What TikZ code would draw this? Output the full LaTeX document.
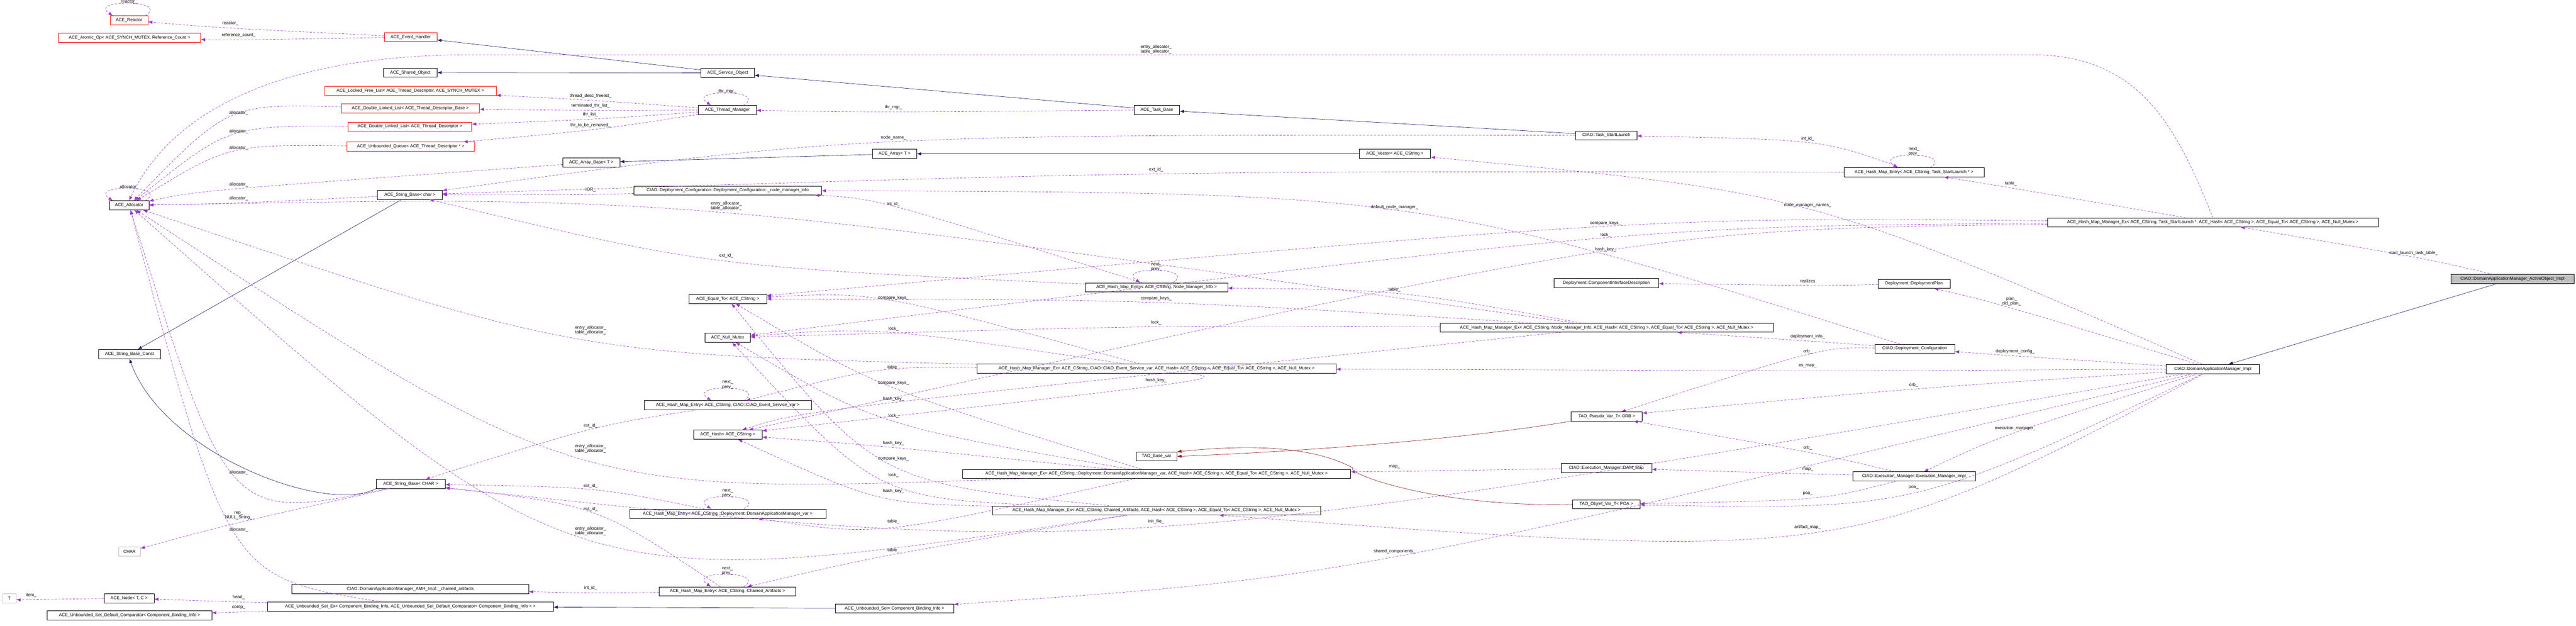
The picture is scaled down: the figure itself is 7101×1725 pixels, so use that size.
\documentclass[tikz,border=0pt]{standalone}
\usepackage{fontspec}
\setmainfont{Liberation Sans}
\usetikzlibrary{arrows.meta,calc}
\definecolor{dpurple}{HTML}{9A32CD}
\definecolor{navy}{HTML}{191970}
\definecolor{dred}{HTML}{8B1A1A}
\definecolor{lgray}{HTML}{BFBFBF}
\newcounter{lc}
\tikzset{
  box/.style={draw=black, line width=0.8pt, minimum height=25pt, inner sep=2pt, font=\fontsize{12}{14}\selectfont, fill=white},
  redbox/.style={box, draw=red},
  graybox/.style={box, draw=lgray},
  lbl/.style={font=\fontsize{12}{13}\selectfont, inner sep=0pt, align=center},
  dep/.style={draw=dpurple, line width=0.9pt, dash pattern=on 6pt off 4pt, -{Latex[length=12pt,width=9pt]}},
  inh/.style={draw=navy, line width=0.9pt, -{Latex[length=12pt,width=9pt]}},
  tmpl/.style={draw=dred, line width=0.9pt, -{Latex[length=12pt,width=9pt]}},
}
% [#1 drop] #2 src, #3 dst, #4 label x, #5 label y, #6 text
\newcommand\dep[6][12]{%
  \stepcounter{lc}%
  \node[lbl] (lab\arabic{lc}) at (#4,#5) {#6};
  \draw[dep] (#2) .. controls ($1.33333*(#4,{#5+#1})-0.166667*(#2)-0.166667*(#3)$) .. (#3);}
\newcommand\loopdep[3]{%
  \stepcounter{lc}%
  \draw[dep] ($(#1.north)+(45,0)$) .. controls +(70,-45) and +(-70,-45) .. ($(#1.north)+(-45,0)$);
  \node[lbl, anchor=south] (lab\arabic{lc}) at ($(#1.north)+(0,-#2)$) {#3};}
\begin{document}
\begin{tikzpicture}[x=1pt,y=-1pt]
\useasboundingbox (0,0) rectangle (7101,1725);
% ---- nodes
\node[redbox, minimum width=103pt] (reactor) at (356,56) {ACE\_Reactor};
\node[redbox, minimum width=392pt] (atomic) at (357,104) {ACE\_Atomic\_Op< ACE\_SYNCH\_MUTEX, Reference\_Count >};
\node[redbox, minimum width=145pt] (evh) at (1132,102) {ACE\_Event\_Handler};
\node[box, minimum width=148pt] (shobj) at (1131,200) {ACE\_Shared\_Object};
\node[redbox, minimum width=473pt] (lfl) at (1131,250) {ACE\_Locked\_Free\_List< ACE\_Thread\_Descriptor, ACE\_SYNCH\_MUTEX >};
\node[redbox, minimum width=381pt] (dll1) at (1131,299) {ACE\_Double\_Linked\_List< ACE\_Thread\_Descriptor\_Base >};
\node[redbox, minimum width=341pt] (dll2) at (1130,349) {ACE\_Double\_Linked\_List< ACE\_Thread\_Descriptor >};
\node[redbox, minimum width=352pt] (uq) at (1132,404) {ACE\_Unbounded\_Queue< ACE\_Thread\_Descriptor * >};
\node[box, minimum width=109pt] (alloc) at (356,566) {ACE\_Allocator};
\node[box, minimum width=179pt] (sbchar) at (1130,537) {ACE\_String\_Base< char >};
\node[box, minimum width=171pt] (sbconst) at (357,976) {ACE\_String\_Base\_Const};
\node[box, minimum width=190pt] (sbCHAR) at (1132,1334) {ACE\_String\_Base< CHAR >};
\node[graybox, minimum width=60pt] (CHAR) at (357,1520) {CHAR};
\node[graybox, minimum width=37pt] (T) at (26,1649) {T};
\node[box, minimum width=137pt] (nodeTC) at (356,1649) {ACE\_Node< T, C >};
\node[box, minimum width=454pt] (cmp) at (357,1696) {ACE\_Unbounded\_Set\_Default\_Comparator< Component\_Binding\_Info >};
\node[box, minimum width=788pt] (usetex) at (1131,1672) {ACE\_Unbounded\_Set\_Ex< Component\_Binding\_Info, ACE\_Unbounded\_Set\_Default\_Comparator< Component\_Binding\_Info > >};
\node[box, minimum width=653pt] (chained) at (1131,1624) {CIAO::DomainApplicationManager\_AMH\_Impl::\_chained\_artifacts};
\node[box, minimum width=147pt] (svcobj) at (2006,201) {ACE\_Service\_Object};
\node[box, minimum width=160pt] (thrmgr) at (2005,303) {ACE\_Thread\_Manager};
\node[box, minimum width=157pt] (arraybase) at (1630,448) {ACE\_Array\_Base< T >};
\node[box, minimum width=122pt] (array) at (2466,424) {ACE\_Array< T >};
\node[box, minimum width=517pt] (nmi) at (2006,525) {CIAO::Deployment\_Configuration::Deployment\_Configuration::\_node\_manager\_info};
\node[box, minimum width=215pt] (equal) at (2006,824) {ACE\_Equal\_To< ACE\_CString >};
\node[box, minimum width=125pt] (nullmutex) at (2006,931) {ACE\_Null\_Mutex};
\node[box, minimum width=462pt] (entryES) at (2006,1117) {ACE\_Hash\_Map\_Entry< ACE\_CString, CIAO::CIAO\_Event\_Service\_var >};
\node[box, minimum width=189pt] (hash) at (2006,1198) {ACE\_Hash< ACE\_CString >};
\node[box, minimum width=541pt] (entryDAM) at (2006,1416) {ACE\_Hash\_Map\_Entry< ACE\_CString,::Deployment::DomainApplicationManager\_var >};
\node[box, minimum width=376pt] (entryCA) at (2005,1630) {ACE\_Hash\_Map\_Entry< ACE\_CString, Chained\_Artifacts >};
\node[box, minimum width=326pt] (uset) at (2466,1677) {ACE\_Unbounded\_Set< Component\_Binding\_Info >};
\node[box, minimum width=125pt] (taskbase) at (3189,303) {ACE\_Task\_Base};
\node[box, minimum width=197pt] (vector) at (3845,424) {ACE\_Vector< ACE\_CString >};
\node[box, minimum width=393pt] (entryNMI) at (3188,792) {ACE\_Hash\_Map\_Entry< ACE\_CString, Node\_Manager\_Info >};
\node[box, minimum width=918pt] (mgrNMI) at (4429,903) {ACE\_Hash\_Map\_Manager\_Ex< ACE\_CString, Node\_Manager\_Info, ACE\_Hash< ACE\_CString >, ACE\_Equal\_To< ACE\_CString >, ACE\_Null\_Mutex >};
\node[box, minimum width=990pt] (mgrES) at (3188,1016) {ACE\_Hash\_Map\_Manager\_Ex< ACE\_CString, CIAO::CIAO\_Event\_Service\_var, ACE\_Hash< ACE\_CString >, ACE\_Equal\_To< ACE\_CString >, ACE\_Null\_Mutex >};
\node[box, minimum width=113pt] (taobase) at (3188,1258) {TAO\_Base\_var};
\node[box, minimum width=1070pt] (mgrDAM) at (3188,1306) {ACE\_Hash\_Map\_Manager\_Ex< ACE\_CString,::Deployment::DomainApplicationManager\_var, ACE\_Hash< ACE\_CString >, ACE\_Equal\_To< ACE\_CString >, ACE\_Null\_Mutex >};
\node[box, minimum width=904pt] (mgrCA) at (3188,1407) {ACE\_Hash\_Map\_Manager\_Ex< ACE\_CString, Chained\_Artifacts, ACE\_Hash< ACE\_CString >, ACE\_Equal\_To< ACE\_CString >, ACE\_Null\_Mutex >};
\node[box, minimum width=169pt] (tsl) at (4428,373) {CIAO::Task\_StartLaunch};
\node[box, minimum width=386pt] (entryTSL) at (5276,475) {ACE\_Hash\_Map\_Entry< ACE\_CString, Task\_StartLaunch * >};
\node[box, minimum width=289pt] (cid) at (4428,780) {Deployment::ComponentInterfaceDescription};
\node[box, minimum width=199pt] (plan) at (5276,782) {Deployment::DeploymentPlan};
\node[box, minimum width=220pt] (depconf) at (5278,961) {CIAO::Deployment\_Configuration};
\node[box, minimum width=196pt] (orb) at (4429,1148) {TAO\_Pseudo\_Var\_T< ORB >};
\node[box, minimum width=250pt] (dammap) at (4428,1290) {CIAO::Execution\_Manager::DAM\_Map};
\node[box, minimum width=338pt] (emi) at (5276,1313) {CIAO::Execution\_Manager::Execution\_Manager\_Impl};
\node[box, minimum width=186pt] (poa) at (4428,1390) {TAO\_Objref\_Var\_T< POA >};
\node[box, minimum width=913pt] (mgrTSL) at (6100,613) {ACE\_Hash\_Map\_Manager\_Ex< ACE\_CString, Task\_StartLaunch *, ACE\_Hash< ACE\_CString >, ACE\_Equal\_To< ACE\_CString >, ACE\_Null\_Mutex >};
\node[box, fill=lgray, minimum width=340pt] (daoi) at (6926,769) {CIAO::DomainApplicationManager\_ActiveObject\_Impl};
\node[box, minimum width=257pt] (dami) at (6100,1017) {CIAO::DomainApplicationManager\_Impl};
% ---- inheritance
\draw[inh] (svcobj) -- (evh);
\draw[inh] (svcobj) -- (shobj);
\draw[inh] (taskbase) -- (svcobj);
\draw[inh] (tsl) -- (taskbase);
\draw[inh] (sbchar) -- (sbconst);
\draw[inh] (sbCHAR.south west) .. controls (900,1420) and (450,1250) .. (sbconst.south);
\draw[inh] (array) -- (arraybase);
\draw[inh] (vector) -- (array);
\draw[inh] (uset) -- (usetex);
\draw[inh] (daoi) -- (dami);
\draw[tmpl] (orb.south west) .. controls (4100,1200) and (3700,1240) .. (taobase.east);
\draw[tmpl] (poa.west) .. controls (3950,1400) and (3700,1300) .. (3730,1290) .. controls (3600,1220) and (3400,1230) .. (taobase.north east);
% ---- self loops
\loopdep{reactor}{32}{reactor\_}
\loopdep{alloc}{32}{allocator\_}
\loopdep{thrmgr}{32}{thr\_mgr\_}
\loopdep{entryES}{32}{next\_\\prev\_}
\loopdep{entryDAM}{32}{next\_\\prev\_}
\loopdep{entryCA}{32}{next\_\\prev\_}
\loopdep{entryNMI}{32}{next\_\\prev\_}
\loopdep{entryTSL}{32}{next\_\\prev\_}
% ---- dependencies
\dep{evh}{reactor}{635}{65}{reactor\_}
\dep{evh}{atomic}{658}{97}{reference\_count\_}
\dep{thrmgr}{lfl}{1628}{265}{thread\_desc\_freelist\_}
\dep{thrmgr}{dll1}{1628}{292}{terminated\_thr\_list\_}
\dep{thrmgr}{dll2}{1628}{316}{thr\_list\_}
\dep{thrmgr}{uq}{1628}{345}{thr\_to\_be\_removed\_}
\dep{taskbase}{thrmgr}{2463}{296}{thr\_mgr\_}
\dep{dll1}{alloc}{658}{311}{allocator\_}
\dep{dll2}{alloc}{658}{362}{allocator\_}
\dep{uq}{alloc}{658}{408}{allocator\_}
\dep{arraybase}{alloc}{658}{509}{allocator\_}
\dep{sbchar}{alloc}{658}{547}{allocator\_}
\dep{sbCHAR}{alloc}{658}{1303}{allocator\_}
\dep[20]{sbCHAR}{CHAR}{658}{1421}{rep\_\\NULL\_String\_}
\dep{usetex}{alloc}{658}{1461}{allocator\_}
\dep{nodeTC}{T}{86}{1640}{item\_}
\dep{usetex}{nodeTC}{658}{1647}{head\_}
\dep{usetex}{cmp}{658}{1675}{comp\_}
\dep{nmi}{sbchar}{1628}{523}{IOR\_}
\dep{tsl}{sbchar}{2463}{380}{node\_name\_}
% long top edge: Task_StartLaunch manager -> allocator
\node[lbl] (labTop) at (3187,136) {entry\_allocator\_\\table\_allocator\_};
\coordinate (topR) at (5600,151);
\coordinate (topL) at (1300,151);
\draw[dep] (mgrTSL.north) .. controls (6000,350) and (5900,151) .. (topR) -- (topL) .. controls (700,151) and (450,350) .. (alloc.north);
\dep[20]{mgrNMI}{alloc}{2002}{568}{entry\_allocator\_\\table\_allocator\_}
\dep[20]{mgrES}{alloc}{1628}{910}{entry\_allocator\_\\table\_allocator\_}
\dep[20]{mgrDAM}{alloc}{1628}{1237}{entry\_allocator\_\\table\_allocator\_}
\dep[20]{mgrCA}{alloc}{1628}{1464}{entry\_allocator\_\\table\_allocator\_}
\dep{entryTSL}{sbchar}{3187}{468}{ext\_id\_}
\dep{entryNMI}{sbchar}{2002}{705}{ext\_id\_}
\dep{entryES}{sbCHAR}{1628}{1173}{ext\_id\_}
\dep{entryDAM}{sbCHAR}{1628}{1339}{ext\_id\_}
\dep{entryCA}{sbCHAR}{1628}{1403}{ext\_id\_}
\dep{entryTSL}{tsl}{4983}{383}{int\_id\_}
\dep{entryNMI}{nmi}{2463}{563}{int\_id\_}
\dep{entryCA}{chained}{1628}{1621}{int\_id\_}
\dep{mgrTSL}{entryTSL}{5543}{506}{table\_}
\dep{mgrNMI}{entryNMI}{3844}{799}{table\_}
\dep{mgrES}{entryES}{2463}{1013}{table\_}
\dep{mgrDAM}{entryDAM}{2463}{1438}{table\_}
\dep{mgrCA}{entryCA}{2463}{1517}{table\_}
\dep{mgrTSL}{equal}{4426}{616}{compare\_keys\_}
\dep{mgrNMI}{equal}{3187}{823}{compare\_keys\_}
\dep{mgrES}{equal}{2463}{821}{compare\_keys\_}
\dep{mgrDAM}{equal}{2463}{1056}{compare\_keys\_}
\dep{mgrCA}{equal}{2463}{1265}{compare\_keys\_}
\dep{mgrTSL}{nullmutex}{4426}{648}{lock\_}
\dep{mgrNMI}{nullmutex}{3187}{890}{lock\_}
\dep{mgrES}{nullmutex}{2463}{907}{lock\_}
\dep{mgrDAM}{nullmutex}{2463}{1147}{lock\_}
\dep{mgrCA}{nullmutex}{2463}{1310}{lock\_}
\dep{mgrTSL}{hash}{4426}{688}{hash\_key\_}
\dep{mgrES}{hash}{3187}{1048}{hash\_key\_}
\dep{mgrNMI}{hash}{2463}{1099}{hash\_key\_}
\dep{mgrDAM}{hash}{2463}{1222}{hash\_key\_}
\dep{mgrCA}{hash}{2463}{1354}{hash\_key\_}
\dep{dami}{vector}{4983}{566}{node\_manager\_names\_}
\dep{depconf}{nmi}{3844}{572}{default\_node\_manager\_}
\dep{depconf}{mgrNMI}{4983}{928}{deployment\_info\_}
\dep{depconf}{orb}{4983}{969}{orb\_}
\dep{dami}{depconf}{5555}{969}{deployment\_config\_}
\dep{dami}{mgrES}{4983}{1009}{es\_map\_}
\dep{dami}{orb}{5275}{1061}{orb\_}
\dep{dami}{emi}{5555}{1181}{execution\_manager\_}
\dep{emi}{orb}{4983}{1235}{orb\_}
\dep{emi}{dammap}{4983}{1294}{map\_}
\dep{emi}{poa}{4983}{1360}{poa\_}
\dep{dami}{poa}{5275}{1343}{poa\_}
\dep{dammap}{mgrDAM}{3844}{1287}{map\_}
\dep{dami}{mgrCA}{4983}{1453}{artifact\_map\_}
\dep{dami}{uset}{3844}{1520}{shared\_components\_}
\dep{dami}{sbCHAR}{3187}{1437}{init\_file\_}
\dep[20]{dami}{plan}{5545}{830}{plan\_\\old\_plan\_}
\dep{plan}{cid}{4983}{774}{realizes}
\dep{daoi}{mgrTSL}{6653}{697}{start\_launch\_task\_table\_}
\end{tikzpicture}
\end{document}
